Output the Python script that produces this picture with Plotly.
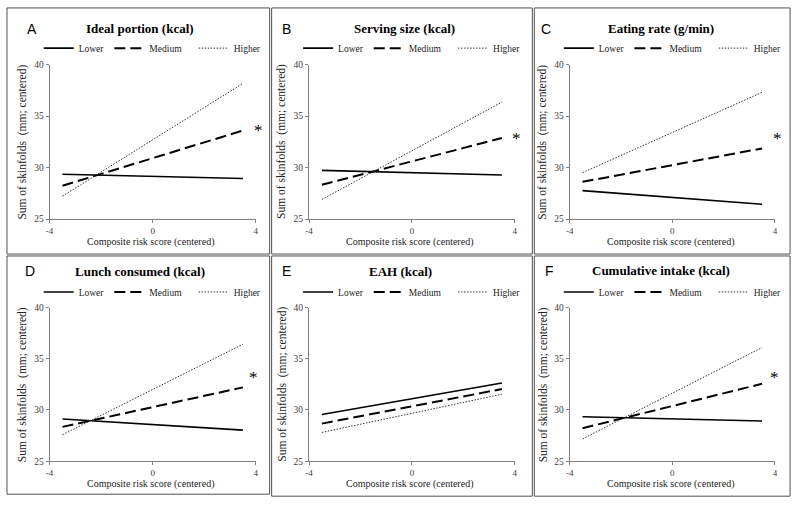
import plotly.graph_objects as go

# ---------------- data ----------------
panel_letters = ["A", "B", "C", "D", "E", "F"]
panel_titles = ["Ideal portion (kcal)", "Serving size (kcal)", "Eating rate (g/min)",
                "Lunch consumed (kcal)", "EAH (kcal)", "Cumulative intake (kcal)"]
series_names = ["Lower", "Medium", "Higher"]
risk_x = [-3.5, 3.5]
lower_vals = [[29.34, 28.93], [29.72, 29.28], [27.76, 26.43],
              [29.12, 28.03], [29.56, 32.63], [29.34, 28.92]]
medium_vals = [[28.23, 33.59], [28.33, 32.86], [28.61, 31.85],
               [28.35, 32.21], [28.67, 32.05], [28.22, 32.56]]
higher_vals = [[27.22, 38.16], [26.90, 36.35], [29.50, 37.30],
               [27.58, 36.43], [27.81, 31.54], [27.17, 36.11]]
star_x = [4.1, 4.06, 4.12, 3.9, None, 3.97]
star_y = [33.6, 32.86, 32.83, 33.2, None, 33.2]
x_range = [-4, 4]
y_range = [25, 40]
x_tick_vals = [-4, 0, 4]
x_tick_text = ["-4", "0", "4"]
y_tick_vals = [25, 30, 35, 40]
y_tick_text = ["25", "30", "35", "40"]
x_title = "Composite risk score (centered)"
y_title = "Sum of skinfolds\u00a0 (mm; centered)"

# ---------------- layout geometry (pixels) ----------------
W, H = 800, 510
col_x = [(46, 254), (307.7, 515.3), (570.7, 777.7)]
row_y = [(60.7, 218.3), (308.7, 465.3)]
borders = [(3, 268, 3, 254), (270, 533, 3, 254), (535, 793, 3, 254),
           (3, 268, 256, 499), (270, 533, 256, 501), (535, 793, 256, 501)]
title_pos = [(137, 24), (404, 24), (663, 24), (137, 272), (400, 272), (663, 271)]
letter_pos = [(28, 24), (285, 24), (547, 24), (26, 271), (285, 271), (550, 271)]
legend_y = [44, 292.7]
legend_label_pad = {"Lower": "", "Medium": "\u00a0\u00a0\u00a0", "Higher": ""}


def px(x):
    return x / W


def py(y):
    return 1 - y / H


serif = "Liberation Serif"
styles = {
    "Lower": dict(color="black", width=1.6, dash="solid"),
    "Medium": dict(color="black", width=2.0, dash="11px,5px"),
    "Higher": dict(color="#333333", width=1.0, dash="1.5px,1.5px"),
}

fig = go.Figure()
annotations = []
shapes = []
layout_axes = {}

for i in range(6):
    r, c = divmod(i, 3)
    n = i + 1
    xa = "x" if n == 1 else f"x{n}"
    ya = "y" if n == 1 else f"y{n}"
    leg = "legend" if n == 1 else f"legend{n}"
    vals = {"Lower": lower_vals[i], "Medium": medium_vals[i], "Higher": higher_vals[i]}
    for name in series_names:
        fig.add_trace(go.Scatter(
            x=risk_x, y=vals[name], mode="lines", name=name + legend_label_pad[name],
            line=styles[name], xaxis=xa, yaxis=ya, legend=leg,
            showlegend=True, hoverinfo="skip"))

    x0, x1 = col_x[c]
    yt, yb = row_y[r]
    layout_axes["xaxis" if n == 1 else f"xaxis{n}"] = dict(
        domain=[px(x0), px(x1)], range=x_range, anchor=ya,
        tickvals=x_tick_vals, ticktext=x_tick_text, ticks="outside", ticklen=3,
        tickcolor="#808080", showline=True, linecolor="#808080", linewidth=1,
        showgrid=False, zeroline=False,
        tickfont=dict(family=serif, size=9, color="#404040"))
    layout_axes["yaxis" if n == 1 else f"yaxis{n}"] = dict(
        domain=[py(yb), py(yt)], range=y_range, anchor=xa,
        tickvals=y_tick_vals, ticktext=y_tick_text, ticks="outside", ticklen=3,
        tickcolor="#808080", showline=True, linecolor="#808080", linewidth=1,
        showgrid=False, zeroline=False,
        tickfont=dict(family=serif, size=9.5, color="#404040"))

    # legend
    layout_axes[leg] = dict(
        orientation="h", x=px(x0 - 11), y=py(legend_y[r]),
        xanchor="left", yanchor="middle", bgcolor="rgba(0,0,0,0)",
        font=dict(family=serif, size=9.5, color="#222222"), itemwidth=30,
        traceorder="normal")

    # border
    bx0, bx1, by0, by1 = borders[i]
    shapes.append(dict(type="rect", xref="paper", yref="paper",
                       x0=px(bx0), x1=px(bx1), y0=py(by1), y1=py(by0),
                       line=dict(color="#505050", width=1), layer="below"))

    # titles, letters
    tx, ty = title_pos[i]
    annotations.append(dict(text=f"<b>{panel_titles[i]}</b>", xref="paper", yref="paper",
                            x=px(tx), y=py(ty), showarrow=False, xanchor="center",
                            yanchor="middle", font=dict(family=serif, size=13, color="black")))
    lx, ly = letter_pos[i]
    annotations.append(dict(text=panel_letters[i], xref="paper", yref="paper",
                            x=px(lx), y=py(ly), showarrow=False, xanchor="center",
                            yanchor="middle", font=dict(family="Liberation Sans", size=14, color="black")))
    # axis titles
    annotations.append(dict(text=x_title, xref="paper", yref="paper",
                            x=px((x0 + x1) / 2 - 2), y=py(yb + 23), showarrow=False,
                            xanchor="center", yanchor="middle",
                            font=dict(family=serif, size=10, color="#222222")))
    annotations.append(dict(text=y_title, xref="paper", yref="paper",
                            x=px(x0 - 27), y=py((yt + yb) / 2), showarrow=False,
                            textangle=-90, xanchor="center", yanchor="middle",
                            font=dict(family=serif, size=11.5, color="#222222")))
    # significance star (placed via axis-domain fraction so it may sit past x=4)
    if star_x[i] is not None:
        frac = (star_x[i] - x_range[0]) / (x_range[1] - x_range[0])
        annotations.append(dict(text="*", xref=f"{xa} domain", yref=ya, x=frac, y=star_y[i],
                                showarrow=False, xanchor="center", yanchor="middle",
                                font=dict(family=serif, size=17, color="#000000")))

fig.update_layout(
    width=W, height=H, margin=dict(l=0, r=0, t=0, b=0),
    paper_bgcolor="white", plot_bgcolor="white", hovermode=False,
    annotations=annotations, shapes=shapes, **layout_axes)

fig.write_html("out.html",
               config={"displayModeBar": False, "staticPlot": True},
               post_script="document.body.style.margin='0px';"
                           "document.documentElement.style.overflow='hidden';")
